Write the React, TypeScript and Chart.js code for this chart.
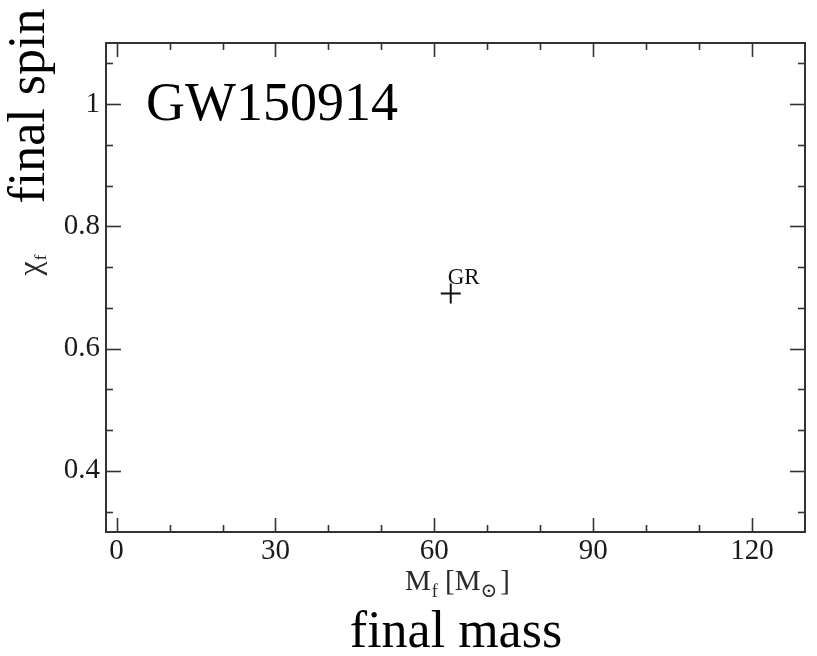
import { useEffect, useRef } from 'react';
import { Chart, registerables } from 'chart.js';

Chart.register(...registerables);

// Axis ranges and ticks
const massRange = [-2, 130];
const spinRange = [0.3, 1.1];
const massTicks = [0, 30, 60, 90, 120];
const massMinorTicks = [10, 20, 40, 50, 70, 80, 100, 110];
const spinTicks = [0.4, 0.6, 0.8, 1];
const spinMinorTicks = [0.3333, 0.4667, 0.5333, 0.6667, 0.7333, 0.8667, 0.9333, 1.0667];

// Final black-hole mass / spin prediction
const finalMass = [63.1];
const finalSpin = [0.69];
const pointNames = ['GR'];

const SERIF = '"Liberation Serif", "DejaVu Serif", "Times New Roman", serif';
const AXIS_COLOR = '#333333';
const TEXT_COLOR = '#111111';

type Run = { text: string; size: number; dy: number; gap?: number };

function runsWidth(ctx: CanvasRenderingContext2D, runs: Run[]) {
  let w = 0;
  for (const r of runs) {
    ctx.font = `${r.size}px ${SERIF}`;
    w += ctx.measureText(r.text).width + (r.gap || 0);
  }
  return w;
}

function drawRuns(ctx: CanvasRenderingContext2D, runs: Run[], x: number, y: number) {
  let cx = x;
  for (const r of runs) {
    ctx.font = `${r.size}px ${SERIF}`;
    cx += r.gap || 0;
    ctx.fillText(r.text, cx, y + r.dy);
    cx += ctx.measureText(r.text).width;
  }
}

// Closed frame with inward major/minor ticks on all four sides
const framePlugin = {
  id: 'frameTicks',
  afterDatasetsDraw(chart: any) {
    const { ctx, chartArea: a, scales } = chart;
    const xs = scales.x;
    const ys = scales.y;
    ctx.save();
    ctx.strokeStyle = AXIS_COLOR;
    ctx.lineWidth = 2;
    ctx.strokeRect(a.left, a.top, a.right - a.left, a.bottom - a.top);
    ctx.lineWidth = 1.6;
    const seg = (x1: number, y1: number, x2: number, y2: number) => {
      ctx.beginPath();
      ctx.moveTo(x1, y1);
      ctx.lineTo(x2, y2);
      ctx.stroke();
    };
    const xTick = (v: number, len: number) => {
      const p = Math.round(xs.getPixelForValue(v)) + 0.5;
      seg(p, a.bottom, p, a.bottom - len);
      seg(p, a.top, p, a.top + len);
    };
    const yTick = (v: number, len: number) => {
      const p = Math.round(ys.getPixelForValue(v)) + 0.5;
      seg(a.left, p, a.left + len, p);
      seg(a.right, p, a.right - len, p);
    };
    massTicks.forEach((v) => xTick(v, 14));
    massMinorTicks.forEach((v) => xTick(v, 7));
    spinTicks.forEach((v) => yTick(v, 15));
    spinMinorTicks.forEach((v) => yTick(v, 7));
    ctx.restore();
  },
};

// Titles, axis labels and point label
const textPlugin = {
  id: 'annotations',
  afterDraw(chart: any) {
    const { ctx, chartArea: a } = chart;
    ctx.save();
    ctx.fillStyle = '#000';
    ctx.textBaseline = 'alphabetic';

    // Event name inside the plot
    ctx.textAlign = 'left';
    ctx.font = `54px ${SERIF}`;
    ctx.fillText('GW150914', 146, 120);

    // Plain-language captions
    ctx.textAlign = 'center';
    ctx.font = `52px ${SERIF}`;
    ctx.fillText('final mass', 456, 647);
    ctx.save();
    ctx.translate(44, 106);
    ctx.rotate(-Math.PI / 2);
    ctx.fillText('final spin', 0, 0);
    ctx.restore();

    // Axis titles with subscripts
    ctx.textAlign = 'left';
    ctx.fillStyle = '#2a2a2a';
    const xRuns: Run[] = [
      { text: 'M', size: 29, dy: 0 },
      { text: 'f', size: 18, dy: 7, gap: 1 },
      { text: ' [M', size: 29, dy: 0 },
      { text: '\u2299', size: 20, dy: 7, gap: 0 },
      { text: ']', size: 29, dy: 0, gap: 3 },
    ];
    const xw = runsWidth(ctx, xRuns);
    drawRuns(ctx, xRuns, (a.left + a.right) / 2 + 2 - xw / 2, 590);

    const yRuns: Run[] = [
      { text: '\u03c7', size: 32, dy: 0 },
      { text: 'f', size: 17, dy: 6, gap: 1 },
    ];
    const yw = runsWidth(ctx, yRuns);
    ctx.save();
    ctx.translate(40, 265);
    ctx.rotate(-Math.PI / 2);
    drawRuns(ctx, yRuns, -yw / 2, 0);
    ctx.restore();

    // Label next to each plotted point
    const meta = chart.getDatasetMeta(0);
    ctx.fillStyle = TEXT_COLOR;
    ctx.font = `23px ${SERIF}`;
    meta.data.forEach((el: any, i: number) => {
      ctx.fillText(pointNames[i], el.x - 3, el.y - 10);
    });
    ctx.restore();
  },
};

export default function App() {
  const canvasRef = useRef<HTMLCanvasElement | null>(null);

  useEffect(() => {
    const canvas = canvasRef.current;
    if (!canvas) return;
    const chart = new Chart(canvas, {
      type: 'scatter',
      data: {
        datasets: [
          {
            label: 'GR',
            data: finalMass.map((m, i) => ({ x: m, y: finalSpin[i] })),
            pointStyle: 'cross',
            pointRadius: 10,
            pointHoverRadius: 10,
            borderWidth: 2,
            borderColor: TEXT_COLOR,
            backgroundColor: TEXT_COLOR,
          },
        ],
      },
      options: {
        responsive: false,
        animation: false,
        devicePixelRatio: 1,
        layout: { padding: { left: 0, top: 43, right: 11, bottom: 0 } },
        plugins: {
          legend: { display: false },
          tooltip: { enabled: false },
        },
        scales: {
          x: {
            type: 'linear',
            min: massRange[0],
            max: massRange[1],
            grid: { display: false, drawTicks: false },
            border: { display: false },
            afterBuildTicks: (scale: any) => {
              scale.ticks = massTicks.map((v) => ({ value: v }));
            },
            afterFit: (scale: any) => {
              scale.height = 124;
            },
            ticks: {
              padding: 2,
              color: '#1a1a1a',
              font: { family: SERIF, size: 29 },
              maxRotation: 0,
              callback: (v: any) => String(v),
            },
          },
          y: {
            type: 'linear',
            min: spinRange[0],
            max: spinRange[1],
            grid: { display: false, drawTicks: false },
            border: { display: false },
            afterBuildTicks: (scale: any) => {
              scale.ticks = spinTicks.map((v) => ({ value: v }));
            },
            afterFit: (scale: any) => {
              scale.width = 106;
            },
            ticks: {
              padding: 6,
              color: '#1a1a1a',
              font: { family: SERIF, size: 29 },
              callback: (v: any) => String(v),
            },
          },
        },
      },
      plugins: [framePlugin, textPlugin],
    });
    return () => chart.destroy();
  }, []);

  return (
    <div
      style={{
        position: 'fixed',
        left: 0,
        top: 0,
        width: 817,
        height: 656,
        background: '#ffffff',
      }}
    >
      <canvas ref={canvasRef} width={817} height={656} style={{ display: 'block' }} />
    </div>
  );
}
